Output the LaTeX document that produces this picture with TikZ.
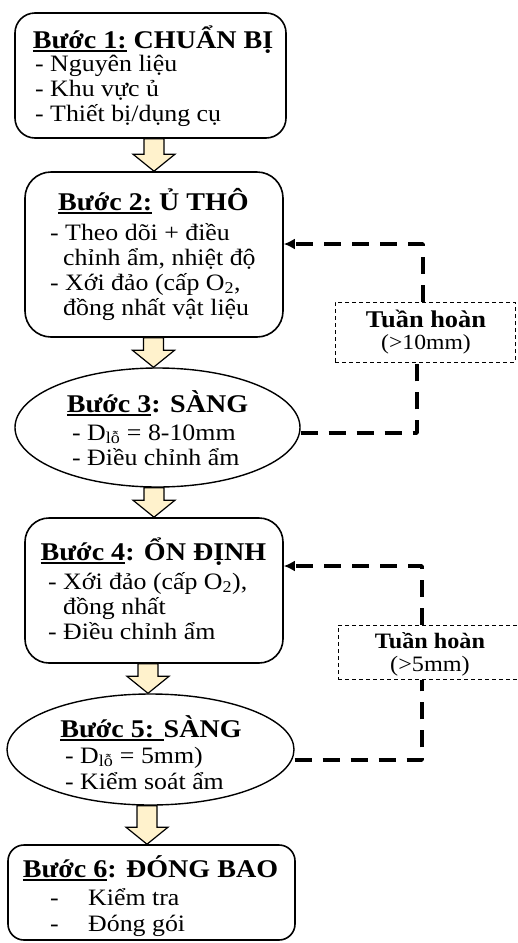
\documentclass[tikz,border=0pt]{standalone}
\usepackage{fontspec}
\setmainfont{Liberation Serif}[FakeStretch=1.1]
\usetikzlibrary{shapes.geometric,arrows.meta,calc}
\definecolor{arrowfill}{RGB}{255,242,204}
\newcommand\uln[1]{\setbox0\hbox{#1}\rlap{\rule[-3.5pt]{\wd0}{1.8pt}}\box0\relax}
\begin{document}
\begin{tikzpicture}[x=1pt,y=-1pt,
  stepbox/.style={draw,line width=1.6pt,rounded corners=#1,inner sep=0pt},
  stepell/.style={draw,ellipse,line width=1.4pt,inner sep=0pt},
  loopbox/.style={draw,dash pattern=on 4pt off 3pt,line width=1pt,inner sep=0pt},
  ttl/.style={anchor=base,inner sep=0pt,font=\fontsize{25.5}{26}\selectfont\bfseries},
  txt/.style={anchor=base west,inner sep=0pt,font=\fontsize{23.5}{25}\selectfont},
  fb/.style={line width=3.6pt,dash pattern=on 17pt off 11pt,line join=round},
  barrow/.style={draw,line width=1.2pt,fill=arrowfill,line join=miter,
    to path={let \p1=(\tikztostart), \p2=(\tikztotarget) in
      (\x1-10pt,\y1) -- (\x1-10pt,\y2+17pt) -- (\x1-21pt,\y2+17pt) -- (\x1,\y2)
      -- (\x1+21pt,\y2+17pt) -- (\x1+10pt,\y2+17pt) -- (\x1+10pt,\y1) -- cycle}}]
\useasboundingbox (0,0) rectangle (518,943);

% shapes
\node[stepbox=20pt,minimum width=271,minimum height=125] (b1) at (150.5,75.5) {};
\node[stepbox=26pt,minimum width=258,minimum height=165] (b2) at (154,254.5) {};
\node[stepell,minimum width=285,minimum height=119] (e3) at (157.5,427.5) {};
\node[stepbox=24pt,minimum width=258,minimum height=145] (b4) at (154,590.5) {};
\node[stepell,minimum width=287,minimum height=111] (e5) at (150.5,749.5) {};
\node[stepbox=16pt,minimum width=287,minimum height=95] (b6) at (151.5,892.5) {};
\node[loopbox,minimum width=180,minimum height=60] (tb1) at (425,332) {};
\node[loopbox,minimum width=192,minimum height=54] (tb2) at (434,652) {};

% texts
\node[ttl] (t1) at (153,48) {\uln{Bước 1:} CHUẨN BỊ};
\node[txt] (l1a) at (35,71) {- Nguyên liệu};
\node[txt] (l1b) at (35,96) {- Khu vực ủ};
\node[txt] (l1c) at (35,121) {- Thiết bị/dụng cụ};

\node[ttl] (t2) at (153.5,210) {\uln{Bước 2:} Ủ THÔ};
\node[txt] (l2a) at (50,240) {- Theo dõi + điều};
\node[txt] (l2b) at (63,265) {chỉnh ẩm, nhiệt độ};
\node[txt] (l2c) at (50,290) {- Xới đảo (cấp O\textsubscript{2},};
\node[txt] (l2d) at (63,315) {đồng nhất vật liệu};

\node[ttl] (t3) at (157.5,412) {\uln{Bước 3}: SÀNG};
\node[txt] (l3a) at (72,440) {- D\textsubscript{lỗ} = 8-10mm};
\node[txt] (l3b) at (72,465) {- Điều chỉnh ẩm};

\node[ttl] (t4) at (153.5,560) {\uln{Bước 4}: ỔN ĐỊNH};
\node[txt] (l4a) at (48,589) {- Xới đảo (cấp O\textsubscript{2}),};
\node[txt] (l4b) at (63,614) {đồng nhất};
\node[txt] (l4c) at (48,639) {- Điều chỉnh ẩm};

\node[ttl] (t5) at (151,737) {\uln{Bước 5: }SÀNG};
\node[txt] (l5a) at (65,763) {- D\textsubscript{lỗ} = 5mm)};
\node[txt] (l5b) at (65,789) {- Kiểm soát ẩm};

\node[ttl] (t6) at (150.5,877) {\uln{Bước 6}: ĐÓNG BAO};
\node[txt] (l6a) at (50,905) {\makebox[38pt][l]{-}Kiểm tra};
\node[txt] (l6b) at (50,931) {\makebox[38pt][l]{-}Đóng gói};

\node[anchor=base,inner sep=0pt,font=\fontsize{24}{24}\selectfont\bfseries] (tl1) at (426,327) {Tuần hoàn};
\node[anchor=base,inner sep=0pt,font=\fontsize{21.5}{22}\selectfont] (tl1b) at (426,349) {(>10mm)};
\node[anchor=base,inner sep=0pt,font=\fontsize{22}{22}\selectfont\bfseries] (tl2) at (430,648) {Tuần hoàn};
\node[anchor=base,inner sep=0pt,font=\fontsize{22}{22}\selectfont] (tl2b) at (430,671) {(>5mm)};

% block arrows
\draw[barrow] ([xshift=3.5pt]b1.south) to (b2.north);
\draw[barrow] ([xshift=-0.5pt]b2.south) to (e3.north);
\draw[barrow] ([xshift=-3.5pt]e3.south) to (b4.north);
\draw[barrow] ([xshift=-6pt]b4.south) to (e5.north);
\draw[barrow] ([xshift=-3.5pt]e5.south) to (b6.north);

% feedback loops
\coordinate (c1) at (417,433);
\coordinate (c2) at (423,244);
\coordinate (c3) at (422,760);
\coordinate (c4) at (422,566);
\draw[fb] (e3.east |- c1) -- (c1) -- (tb1.south -| c1);
\draw[fb,-{Latex[length=11pt,width=11pt]}] (tb1.north -| c2) -- (c2) -- (b2.east |- c2);
\draw[fb] (e5.east |- c3) -- (c3) -- (tb2.south -| c3);
\draw[fb,-{Latex[length=11pt,width=11pt]}] (tb2.north -| c4) -- (c4) -- (b4.east |- c4);
\end{tikzpicture}
\end{document}
